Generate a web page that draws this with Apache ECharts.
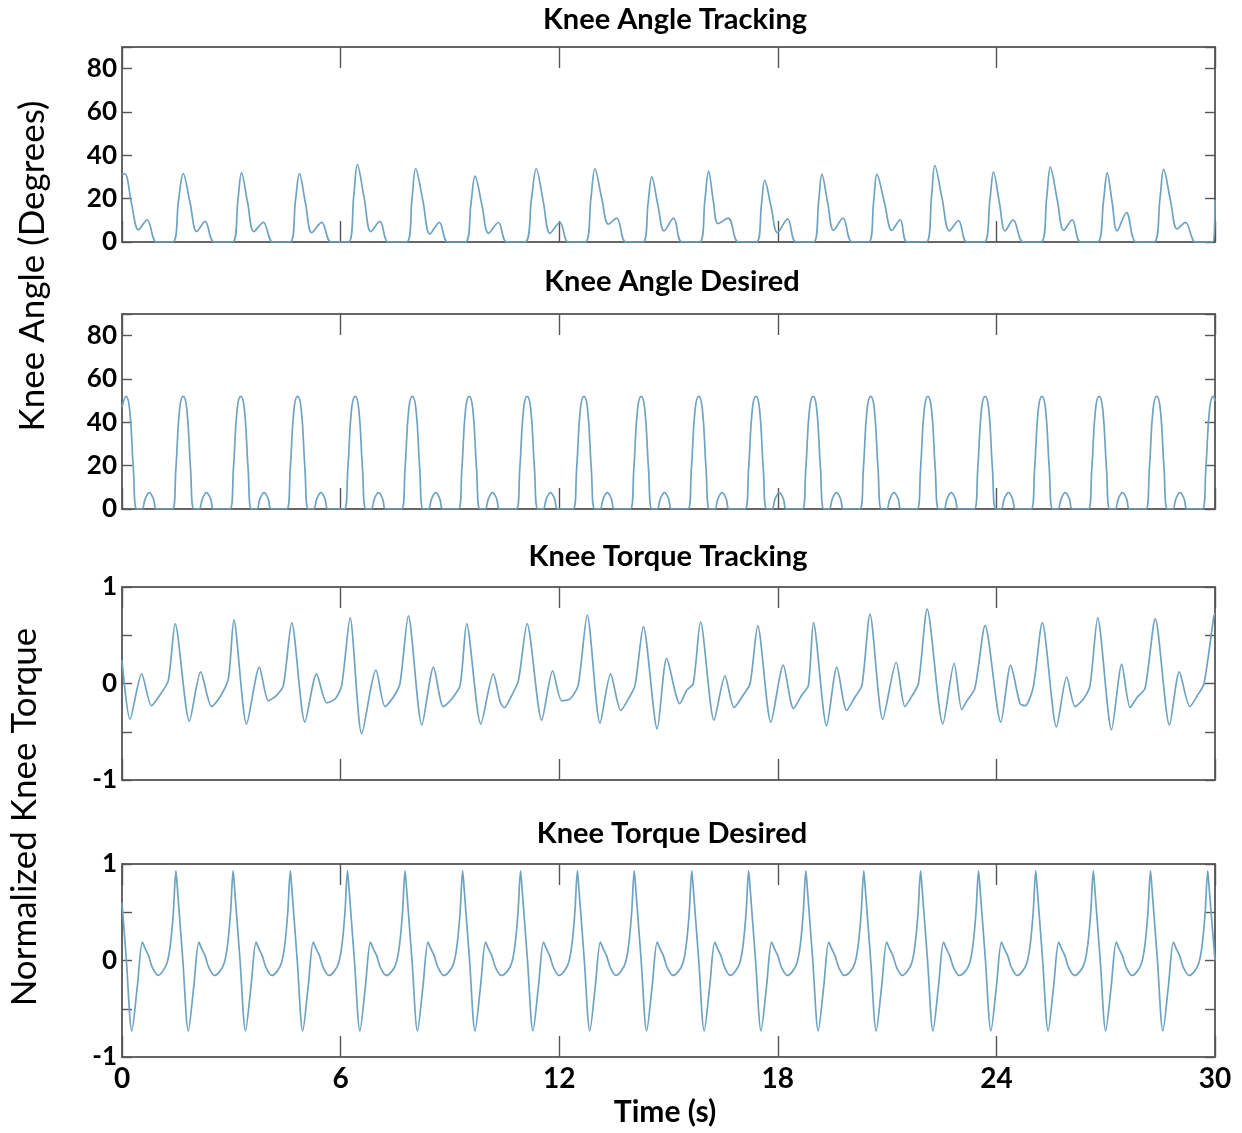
<!DOCTYPE html>
<html><head><meta charset="utf-8">
<script src="https://cdn.jsdelivr.net/npm/echarts@6/dist/echarts.min.js"></script>
<style>html,body{margin:0;padding:0;background:#fff}#c{width:1242px;height:1133px}</style>
</head><body><div id="c"></div>
<script>
// ---------------- data ----------------
const timeTicks = [0, 6, 12, 18, 24, 30];
const angleTickLabels = [0, 20, 40, 60, 80];
const torqueTickLabels = [-1, 0, 1];
const panelTitles = ['Knee Angle Tracking', 'Knee Angle Desired', 'Knee Torque Tracking', 'Knee Torque Desired'];

// [time (s), knee angle (deg)]
const angleTracking = [
[0,31],[0.08,31.5],[0.27,17],[0.45,5.6],[0.69,10.2],[0.95,0],
[1.39,0],[1.55,19],[1.68,31.6],[1.87,18],[2.05,4.8],[2.28,9.5],[2.53,0],
[3.03,0],[3.18,19],[3.28,31.9],[3.45,18],[3.62,4.8],[3.88,9.1],[4.14,0],
[4.61,0],[4.76,19],[4.87,31.6],[5.04,17.5],[5.21,4.3],[5.48,9.1],[5.74,0],
[6.21,0],[6.36,21],[6.46,35.7],[6.65,20],[6.83,4.8],[7.08,9.5],[7.31,0],
[7.81,0],[7.96,20],[8.06,33.8],[8.26,19],[8.45,3.7],[8.71,9.1],[8.94,0],
[9.42,0],[9.58,18],[9.69,30.4],[9.88,17],[10.06,4.0],[10.33,9.0],[10.56,0],
[11.06,0],[11.24,20],[11.37,33.8],[11.56,19],[11.75,4.0],[12.02,9.1],[12.25,0],
[12.71,0],[12.87,20],[12.98,33.8],[13.17,20],[13.35,8.2],[13.58,11],[13.83,0],
[14.29,0],[14.44,18],[14.54,30.1],[14.71,17],[14.88,5.1],[15.14,11],[15.37,0],
[15.85,0],[16.0,19.5],[16.10,32.7],[16.23,19],[16.36,8.5],[16.64,11],[16.92,0],
[17.41,0],[17.55,17],[17.64,28.4],[17.82,16],[17.99,4.3],[18.27,10.7],[18.50,0],
[18.98,0],[19.12,18.5],[19.21,31.2],[19.37,18],[19.53,5.4],[19.79,11],[20.04,0],
[20.49,0],[20.63,18.5],[20.72,31.2],[20.93,18],[21.13,5.4],[21.36,10.2],[21.55,0],
[22.07,0],[22.22,21],[22.31,35.3],[22.51,20],[22.71,5.1],[22.96,9.9],[23.19,0],
[23.66,0],[23.82,19],[23.92,32.3],[24.08,18.5],[24.24,5.1],[24.46,10.2],[24.74,0],
[25.22,0],[25.38,20.5],[25.48,34.6],[25.67,19.5],[25.85,5.4],[26.08,10.2],[26.31,0],
[26.77,0],[26.94,19],[27.04,31.9],[27.18,18],[27.31,5.1],[27.57,13.6],[27.84,0],
[28.32,0],[28.49,20],[28.59,33.5],[28.78,19],[28.96,6.0],[29.19,9.1],[29.47,0],
[29.94,0],[30,19.5]
];

const angleDesired = [
[0,47],[0.11,52],[0.21,46],[0.31,19],[0.41,0],[0.54,0],[0.64,4.8],[0.75,7.6],[0.86,4.8],[0.96,0],
[1.38,0],[1.48,19],[1.58,46],[1.68,52],[1.78,46],[1.88,19],[1.98,0],[2.11,0],[2.21,4.8],[2.32,7.6],[2.43,4.8],[2.53,0],
[2.96,0],[3.06,19],[3.16,46],[3.26,52],[3.36,46],[3.46,19],[3.56,0],[3.69,0],[3.79,4.8],[3.90,7.6],[4.01,4.8],[4.11,0],
[4.52,0],[4.62,19],[4.72,46],[4.82,52],[4.92,46],[5.02,19],[5.12,0],[5.25,0],[5.35,4.8],[5.46,7.6],[5.57,4.8],[5.67,0],
[6.10,0],[6.20,19],[6.30,46],[6.40,52],[6.50,46],[6.60,19],[6.70,0],[6.83,0],[6.93,4.8],[7.04,7.6],[7.15,4.8],[7.25,0],
[7.67,0],[7.77,19],[7.87,46],[7.97,52],[8.07,46],[8.17,19],[8.27,0],[8.40,0],[8.50,4.8],[8.61,7.6],[8.72,4.8],[8.82,0],
[9.23,0],[9.33,19],[9.43,46],[9.53,52],[9.63,46],[9.73,19],[9.83,0],[9.96,0],[10.06,4.8],[10.17,7.6],[10.28,4.8],[10.38,0],
[10.82,0],[10.92,19],[11.02,46],[11.12,52],[11.22,46],[11.32,19],[11.42,0],[11.55,0],[11.65,4.8],[11.76,7.6],[11.87,4.8],[11.97,0],
[12.38,0],[12.48,19],[12.58,46],[12.68,52],[12.78,46],[12.88,19],[12.98,0],[13.11,0],[13.21,4.8],[13.32,7.6],[13.43,4.8],[13.53,0],
[13.95,0],[14.05,19],[14.15,46],[14.25,52],[14.35,46],[14.45,19],[14.55,0],[14.68,0],[14.78,4.8],[14.89,7.6],[15.00,4.8],[15.10,0],
[15.53,0],[15.63,19],[15.73,46],[15.83,52],[15.93,46],[16.03,19],[16.13,0],[16.26,0],[16.36,4.8],[16.47,7.6],[16.58,4.8],[16.68,0],
[17.10,0],[17.20,19],[17.30,46],[17.40,52],[17.50,46],[17.60,19],[17.70,0],[17.83,0],[17.93,4.8],[18.04,7.6],[18.15,4.8],[18.25,0],
[18.67,0],[18.77,19],[18.87,46],[18.97,52],[19.07,46],[19.17,19],[19.27,0],[19.40,0],[19.50,4.8],[19.61,7.6],[19.72,4.8],[19.82,0],
[20.25,0],[20.35,19],[20.45,46],[20.55,52],[20.65,46],[20.75,19],[20.85,0],[20.98,0],[21.08,4.8],[21.19,7.6],[21.30,4.8],[21.40,0],
[21.82,0],[21.92,19],[22.02,46],[22.12,52],[22.22,46],[22.32,19],[22.42,0],[22.55,0],[22.65,4.8],[22.76,7.6],[22.87,4.8],[22.97,0],
[23.39,0],[23.49,19],[23.59,46],[23.69,52],[23.79,46],[23.89,19],[23.99,0],[24.12,0],[24.22,4.8],[24.33,7.6],[24.44,4.8],[24.54,0],
[24.95,0],[25.05,19],[25.15,46],[25.25,52],[25.35,46],[25.45,19],[25.55,0],[25.68,0],[25.78,4.8],[25.89,7.6],[26.00,4.8],[26.10,0],
[26.52,0],[26.62,19],[26.72,46],[26.82,52],[26.92,46],[27.02,19],[27.12,0],[27.25,0],[27.35,4.8],[27.46,7.6],[27.57,4.8],[27.67,0],
[28.10,0],[28.20,19],[28.30,46],[28.40,52],[28.50,46],[28.60,19],[28.70,0],[28.83,0],[28.93,4.8],[29.04,7.6],[29.15,4.8],[29.25,0],
[29.65,0],[29.75,19],[29.85,46],[29.95,52],[30,50]
];

// [time (s), normalized knee torque]
const torqueTracking = [
[0,0.24],[0.22,-0.37],[0.54,0.10],[0.81,-0.23],[1.04,-0.12],[1.27,0.03],[1.46,0.62],
[1.85,-0.39],[2.16,0.12],[2.46,-0.24],[2.69,-0.14],[2.92,0.05],[3.07,0.66],
[3.42,-0.42],[3.77,0.17],[4.02,-0.18],[4.25,-0.12],[4.43,-0.02],[4.66,0.63],
[5.02,-0.40],[5.34,0.10],[5.62,-0.20],[5.85,-0.16],[6.03,-0.02],[6.26,0.68],
[6.58,-0.52],[6.97,0.14],[7.22,-0.24],[7.45,-0.14],[7.63,0.0],[7.86,0.70],
[8.23,-0.43],[8.55,0.17],[8.82,-0.24],[9.05,-0.16],[9.28,-0.02],[9.46,0.62],
[9.85,-0.42],[10.19,0.10],[10.38,-0.19],[10.49,-0.25],[10.70,-0.12],[10.88,0.03],[11.12,0.62],
[11.52,-0.38],[11.82,0.13],[12.07,-0.18],[12.30,-0.16],[12.52,-0.02],[12.77,0.71],
[13.12,-0.41],[13.41,0.10],[13.69,-0.28],[13.90,-0.16],[14.08,-0.02],[14.31,0.59],
[14.69,-0.47],[14.95,0.26],[15.31,-0.21],[15.50,-0.07],[15.68,0.0],[15.88,0.64],
[16.25,-0.38],[16.55,0.08],[16.80,-0.25],[17.05,-0.12],[17.24,0.0],[17.45,0.60],
[17.81,-0.40],[18.15,0.19],[18.43,-0.26],[18.66,-0.12],[18.84,-0.02],[18.98,0.63],
[19.34,-0.44],[19.62,0.17],[19.89,-0.28],[20.12,-0.14],[20.31,-0.02],[20.53,0.72],
[20.88,-0.37],[21.25,0.22],[21.49,-0.24],[21.68,-0.13],[21.86,0.0],[22.10,0.77],
[22.53,-0.42],[22.84,0.21],[23.05,-0.27],[23.19,-0.18],[23.41,-0.05],[23.69,0.60],
[24.12,-0.40],[24.39,0.19],[24.65,-0.21],[24.79,-0.23],[25.01,-0.04],[25.26,0.63],
[25.65,-0.45],[25.93,0.07],[26.16,-0.24],[26.39,-0.16],[26.57,-0.02],[26.78,0.68],
[27.16,-0.48],[27.44,0.20],[27.67,-0.25],[27.87,-0.14],[28.08,-0.05],[28.36,0.67],
[28.75,-0.43],[29.02,0.12],[29.31,-0.24],[29.54,-0.11],[29.70,0.0],[29.97,0.70],[30,0.72]
];

const torqueDesired = [
[0,0.6],[0.12,0],[0.27,-0.73],[0.42,-0.27],[0.56,0.19],[0.64,0.12],[0.73,0.05],[0.83,-0.07],[0.99,-0.155],
[1.12,-0.11],[1.24,-0.02],[1.33,0.17],[1.41,0.5],[1.48,0.93],[1.52,0.75],[1.67,0],[1.82,-0.73],[1.97,-0.27],[2.11,0.19],[2.19,0.12],[2.28,0.05],[2.38,-0.07],[2.54,-0.155],
[2.69,-0.11],[2.81,-0.02],[2.90,0.17],[2.98,0.5],[3.05,0.93],[3.09,0.75],[3.24,0],[3.39,-0.73],[3.54,-0.27],[3.68,0.19],[3.76,0.12],[3.85,0.05],[3.95,-0.07],[4.11,-0.155],
[4.26,-0.11],[4.38,-0.02],[4.47,0.17],[4.55,0.5],[4.62,0.93],[4.66,0.75],[4.81,0],[4.96,-0.73],[5.11,-0.27],[5.25,0.19],[5.33,0.12],[5.42,0.05],[5.52,-0.07],[5.68,-0.155],
[5.83,-0.11],[5.95,-0.02],[6.04,0.17],[6.12,0.5],[6.19,0.93],[6.23,0.75],[6.38,0],[6.53,-0.73],[6.68,-0.27],[6.82,0.19],[6.90,0.12],[6.99,0.05],[7.09,-0.07],[7.25,-0.155],
[7.41,-0.11],[7.53,-0.02],[7.62,0.17],[7.70,0.5],[7.77,0.93],[7.81,0.75],[7.96,0],[8.11,-0.73],[8.26,-0.27],[8.40,0.19],[8.48,0.12],[8.57,0.05],[8.67,-0.07],[8.83,-0.155],
[8.99,-0.11],[9.11,-0.02],[9.20,0.17],[9.28,0.5],[9.35,0.93],[9.39,0.75],[9.54,0],[9.69,-0.73],[9.84,-0.27],[9.98,0.19],[10.06,0.12],[10.15,0.05],[10.25,-0.07],[10.41,-0.155],
[10.58,-0.11],[10.70,-0.02],[10.79,0.17],[10.87,0.5],[10.94,0.93],[10.98,0.75],[11.13,0],[11.28,-0.73],[11.43,-0.27],[11.57,0.19],[11.65,0.12],[11.74,0.05],[11.84,-0.07],[12.00,-0.155],
[12.14,-0.11],[12.26,-0.02],[12.35,0.17],[12.43,0.5],[12.50,0.93],[12.54,0.75],[12.69,0],[12.84,-0.73],[12.99,-0.27],[13.13,0.19],[13.21,0.12],[13.30,0.05],[13.40,-0.07],[13.56,-0.155],
[13.70,-0.11],[13.82,-0.02],[13.91,0.17],[13.99,0.5],[14.06,0.93],[14.10,0.75],[14.25,0],[14.40,-0.73],[14.55,-0.27],[14.69,0.19],[14.77,0.12],[14.86,0.05],[14.96,-0.07],[15.12,-0.155],
[15.28,-0.11],[15.40,-0.02],[15.49,0.17],[15.57,0.5],[15.64,0.93],[15.68,0.75],[15.83,0],[15.98,-0.73],[16.13,-0.27],[16.27,0.19],[16.35,0.12],[16.44,0.05],[16.54,-0.07],[16.70,-0.155],
[16.84,-0.11],[16.96,-0.02],[17.05,0.17],[17.13,0.5],[17.20,0.93],[17.24,0.75],[17.39,0],[17.54,-0.73],[17.69,-0.27],[17.83,0.19],[17.91,0.12],[18.00,0.05],[18.10,-0.07],[18.26,-0.155],
[18.41,-0.11],[18.53,-0.02],[18.62,0.17],[18.70,0.5],[18.77,0.93],[18.81,0.75],[18.96,0],[19.11,-0.73],[19.26,-0.27],[19.40,0.19],[19.48,0.12],[19.57,0.05],[19.67,-0.07],[19.83,-0.155],
[20.00,-0.11],[20.12,-0.02],[20.21,0.17],[20.29,0.5],[20.36,0.93],[20.40,0.75],[20.55,0],[20.70,-0.73],[20.85,-0.27],[20.99,0.19],[21.07,0.12],[21.16,0.05],[21.26,-0.07],[21.42,-0.155],
[21.56,-0.11],[21.68,-0.02],[21.77,0.17],[21.85,0.5],[21.92,0.93],[21.96,0.75],[22.11,0],[22.26,-0.73],[22.41,-0.27],[22.55,0.19],[22.63,0.12],[22.72,0.05],[22.82,-0.07],[22.98,-0.155],
[23.15,-0.11],[23.27,-0.02],[23.36,0.17],[23.44,0.5],[23.51,0.93],[23.55,0.75],[23.70,0],[23.85,-0.73],[24.00,-0.27],[24.14,0.19],[24.22,0.12],[24.31,0.05],[24.41,-0.07],[24.57,-0.155],
[24.72,-0.11],[24.84,-0.02],[24.93,0.17],[25.01,0.5],[25.08,0.93],[25.12,0.75],[25.27,0],[25.42,-0.73],[25.57,-0.27],[25.71,0.19],[25.79,0.12],[25.88,0.05],[25.98,-0.07],[26.14,-0.155],
[26.30,-0.11],[26.42,-0.02],[26.51,0.17],[26.59,0.5],[26.66,0.93],[26.70,0.75],[26.85,0],[27.00,-0.73],[27.15,-0.27],[27.29,0.19],[27.37,0.12],[27.46,0.05],[27.56,-0.07],[27.72,-0.155],
[27.87,-0.11],[27.99,-0.02],[28.08,0.17],[28.16,0.5],[28.23,0.93],[28.27,0.75],[28.42,0],[28.57,-0.73],[28.72,-0.27],[28.86,0.19],[28.94,0.12],[29.03,0.05],[29.13,-0.07],[29.29,-0.155],
[29.44,-0.11],[29.56,-0.02],[29.65,0.17],[29.73,0.5],[29.80,0.93],[29.84,0.75],[30,0.0]
];

// ---------------- chart ----------------
const FONT = 'Lato';
const LINE = '#6ea3c2';
const AXIS = '#666666';
const gridBoxes = [
  {top: 47, height: 195},
  {top: 314, height: 195},
  {top: 587, height: 193},
  {top: 864, height: 193}
];
const panels = [
  {data: angleTracking, min: 0, max: 90, interval: 20, labels: angleTickLabels, smooth: 0.35},
  {data: angleDesired, min: 0, max: 90, interval: 20, labels: angleTickLabels, smooth: 0.45},
  {data: torqueTracking, min: -1, max: 1, interval: 0.5, labels: torqueTickLabels, smooth: 0.25},
  {data: torqueDesired, min: -1, max: 1, interval: 0.5, labels: torqueTickLabels, smooth: 0.3}
];

const grid = [], xAxis = [], yAxis = [], series = [];
const axisLine = {show: true, onZero: false, lineStyle: {color: AXIS, width: 2}};
panels.forEach((p, i) => {
  grid.push({left: 122, width: 1093, top: gridBoxes[i].top, height: gridBoxes[i].height, outerBoundsMode: 'none', containLabel: false});
  const isLast = i === panels.length - 1;
  const xBase = {
    type: 'value', gridIndex: i, min: timeTicks[0], max: timeTicks[timeTicks.length - 1], interval: timeTicks[1] - timeTicks[0],
    axisLine, splitLine: {show: false},
    axisTick: {show: true, inside: true, length: 21, lineStyle: {color: '#555', width: 1.4}}
  };
  xAxis.push(Object.assign({}, xBase, {
    position: 'bottom',
    axisLabel: {show: isLast, fontFamily: FONT, fontWeight: 'bold', fontSize: 28, color: '#000', margin: 8,
      formatter: v => timeTicks.includes(v) ? String(v) : ''}
  }));
  xAxis.push(Object.assign({}, xBase, {position: 'top', axisLabel: {show: false}}));
  const yBase = {
    type: 'value', gridIndex: i, min: p.min, max: p.max, interval: p.interval,
    axisLine, splitLine: {show: false},
    axisTick: {show: true, inside: true, length: 10, lineStyle: {color: '#555', width: 1.4}}
  };
  yAxis.push(Object.assign({}, yBase, {
    position: 'left',
    axisLabel: {show: true, fontFamily: FONT, fontWeight: 'bold', fontSize: 26, color: '#000', margin: 5,
      formatter: v => p.labels.includes(v) ? String(v) : ''}
  }));
  yAxis.push(Object.assign({}, yBase, {position: 'right', axisLabel: {show: false}}));
  series.push({
    type: 'line', xAxisIndex: 2 * i, yAxisIndex: 2 * i, data: p.data, smooth: p.smooth,
    showSymbol: false, symbol: 'none', silent: true, animation: false,
    lineStyle: {color: LINE, width: 1.7}
  });
});

const titleCenters = [[675, 20], [672, 282], [668, 557], [672, 834]];
const graphic = panelTitles.map((t, i) => ({
  type: 'text', x: titleCenters[i][0], y: titleCenters[i][1],
  style: {text: t, fontFamily: FONT, fontWeight: 'bold', fontSize: 29, fill: '#000', align: 'center', verticalAlign: 'middle'}
}));
graphic.push({type: 'text', x: 33, y: 266, rotation: Math.PI / 2,
  style: {text: 'Knee Angle (Degrees)', fontFamily: FONT, fontSize: 35, fill: '#000', align: 'center', verticalAlign: 'middle'}});
graphic.push({type: 'text', x: 25, y: 817, rotation: Math.PI / 2,
  style: {text: 'Normalized Knee Torque', fontFamily: FONT, fontSize: 35, fill: '#000', align: 'center', verticalAlign: 'middle'}});
graphic.push({type: 'text', x: 665, y: 1112,
  style: {text: 'Time (s)', fontFamily: FONT, fontWeight: 'bold', fontSize: 30, fill: '#000', align: 'center', verticalAlign: 'middle'}});

const chart = echarts.init(document.getElementById('c'), null, {renderer: 'canvas'});
chart.setOption({animation: false, backgroundColor: '#fff', grid, xAxis, yAxis, series, graphic});
</script></body></html>
